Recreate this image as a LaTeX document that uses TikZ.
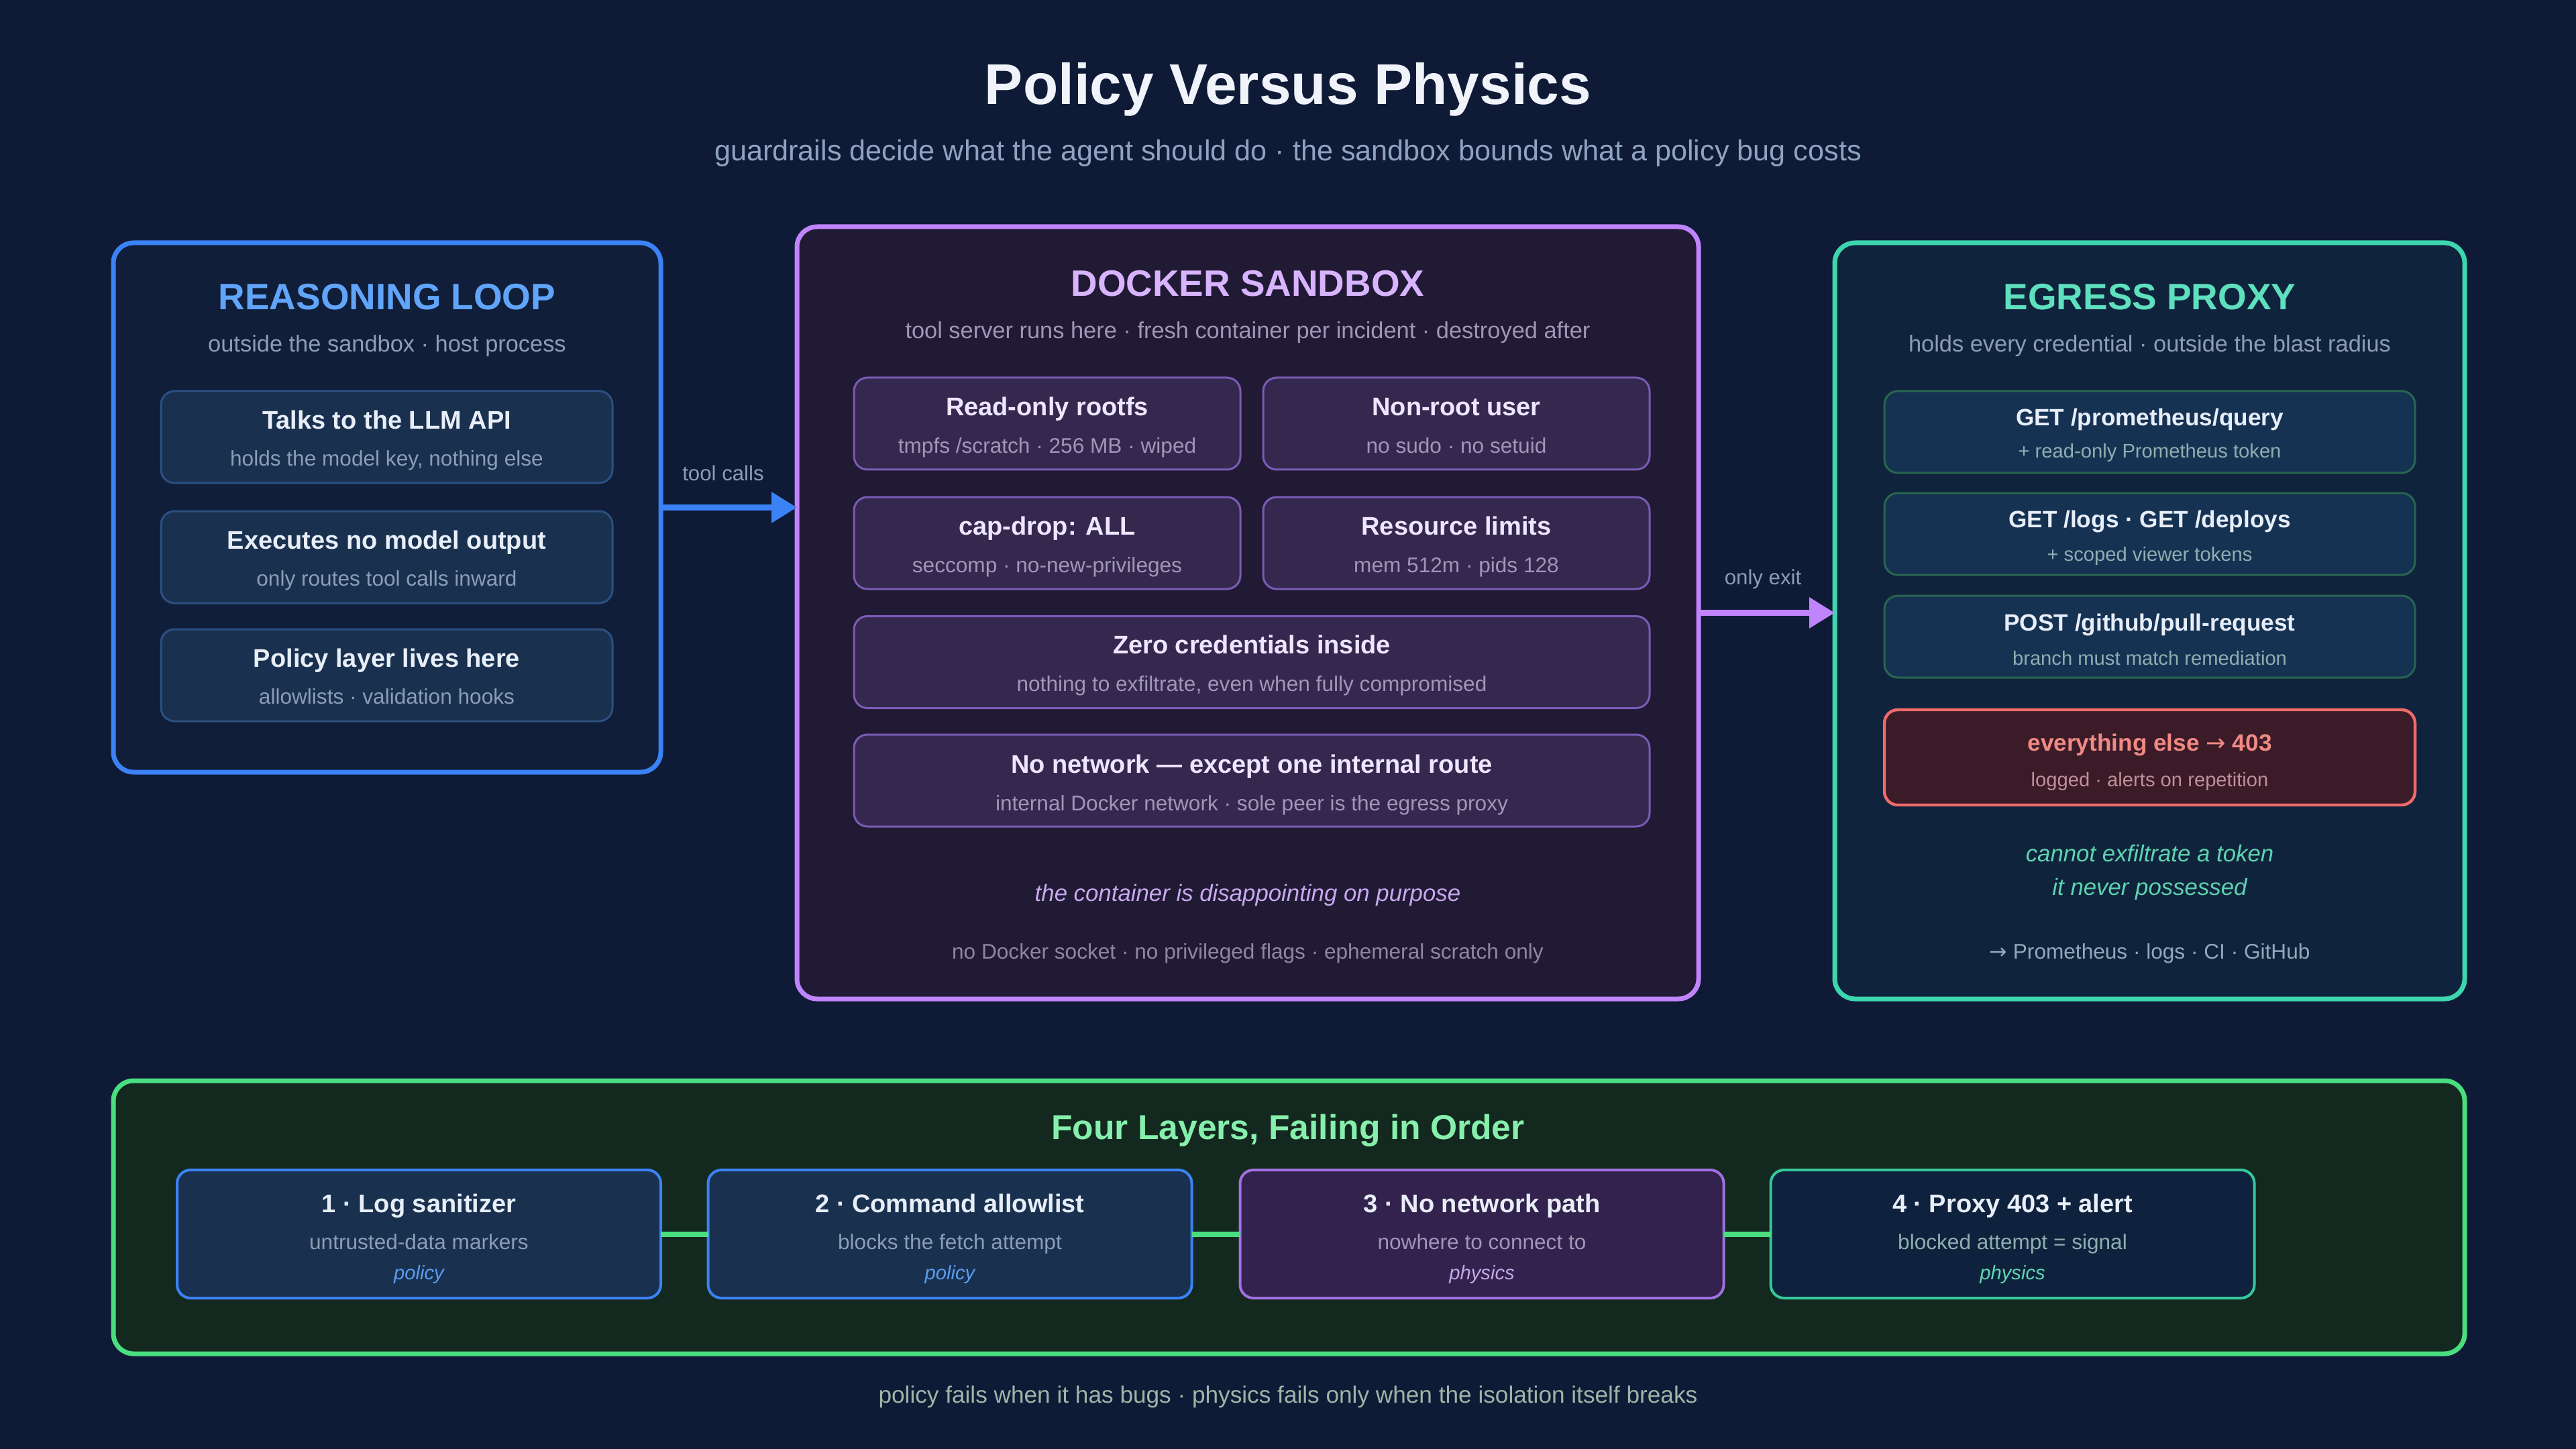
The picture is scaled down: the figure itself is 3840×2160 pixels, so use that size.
\documentclass[tikz,border=0pt]{standalone}
\usepackage{fontspec}
\setmainfont{Liberation Sans}
\newfontfamily\arrowfont{DejaVu Sans}
\usetikzlibrary{arrows.meta}
\definecolor{bg}{HTML}{0F1B36}
\definecolor{maintxt}{HTML}{E8EEF8}
\definecolor{subgray}{HTML}{8C9DB5}
\definecolor{rlfill}{HTML}{101E3A}
\definecolor{rlborder}{HTML}{3B82F6}
\definecolor{rltitle}{HTML}{60A5FA}
\definecolor{bcfill}{HTML}{19314F}
\definecolor{bcborder}{HTML}{2C5080}
\definecolor{dsfill}{HTML}{211A34}
\definecolor{dsborder}{HTML}{C084FC}
\definecolor{dstitle}{HTML}{D8B4FE}
\definecolor{dcfill}{HTML}{35284F}
\definecolor{dcborder}{HTML}{7A5BB5}
\definecolor{dctxt}{HTML}{EEE6FF}
\definecolor{dssub}{HTML}{A096B8}
\definecolor{dsitalic}{HTML}{C8A8F0}
\definecolor{dsfoot}{HTML}{8F86A5}
\definecolor{epfill}{HTML}{10233D}
\definecolor{epborder}{HTML}{3DD6AE}
\definecolor{eptitle}{HTML}{5EE0BE}
\definecolor{ecfill}{HTML}{163253}
\definecolor{ecborder}{HTML}{28664F}
\definecolor{epsub}{HTML}{8FAEB0}
\definecolor{redfill}{HTML}{3B1B27}
\definecolor{redborder}{HTML}{EE6B6B}
\definecolor{redtitle}{HTML}{F08A84}
\definecolor{redsub}{HTML}{C0909A}
\definecolor{epitalic}{HTML}{5DD3AE}
\definecolor{epfoot}{HTML}{93A8BA}
\definecolor{btfill}{HTML}{13291F}
\definecolor{btborder}{HTML}{4ADE80}
\definecolor{bttitle}{HTML}{86EFAC}
\definecolor{b3fill}{HTML}{33224D}
\definecolor{b3border}{HTML}{A070E0}
\definecolor{b4fill}{HTML}{0F223D}
\definecolor{b4border}{HTML}{34C79A}
\definecolor{tagpolicy}{HTML}{5B9BF0}
\definecolor{tagphys}{HTML}{C4A7E7}
\definecolor{tagphysb}{HTML}{5ED6B0}
\definecolor{footc}{HTML}{A0B4A8}
\definecolor{titlec}{HTML}{F0F4FA}
\definecolor{subtitlec}{HTML}{8FA3C0}
\begin{document}
\begin{tikzpicture}[x=0.25pt,y=-0.25pt,
  wh/.style 2 args={minimum width=#1*0.25pt, minimum height=#2*0.25pt},
  panel/.style={draw, line width=1.75pt, rounded corners=7.5pt, inner sep=0pt, outer sep=0pt},
  card/.style={draw, line width=0.75pt, rounded corners=5pt, inner sep=0pt, outer sep=0pt},
  layer/.style={draw, line width=1pt, rounded corners=5pt, inner sep=0pt, outer sep=0pt},
  txt/.style={inner sep=0pt, anchor=mid},
  bigtitle/.style={txt, font=\fontsize{21.4}{25}\selectfont\bfseries, text=titlec},
  bigsub/.style={txt, font=\fontsize{10.8}{13}\selectfont, text=subtitlec},
  ptitle/.style={txt, font=\fontsize{13.7}{16}\selectfont\bfseries},
  psub/.style={txt, font=\fontsize{8.6}{10}\selectfont},
  ctitle/.style={txt, font=\fontsize{9.5}{11}\selectfont\bfseries},
  csub/.style={txt, font=\fontsize{7.9}{9}\selectfont},
  etitle/.style={txt, font=\fontsize{8.8}{11}\selectfont\bfseries},
  esub/.style={txt, font=\fontsize{7.3}{9}\selectfont},
  note/.style={txt, font=\fontsize{8.7}{10}\selectfont\itshape},
  foot/.style={txt, font=\fontsize{7.9}{9}\selectfont},
  lbl/.style={txt, font=\fontsize{7.8}{9}\selectfont, text=subgray},
  tag/.style={txt, font=\fontsize{7.3}{9}\selectfont\itshape},
  flow/.style={line width=2.3pt, -{Triangle[length=9.5pt,width=11pt]}}
]
\fill[bg] (0,0) rectangle (3840,2160);
\useasboundingbox (0,0) rectangle (3840,2160);

% ---------- title ----------
\node[bigtitle] (title) at (1920,145) {Policy Versus Physics};
\node[bigsub] (subtitle) at (1920,229) {guardrails decide what the agent should do · the sandbox bounds what a policy bug costs};

% ---------- reasoning loop ----------
\node[panel, wh={816}{789}, draw=rlborder, fill=rlfill] (rl) at (577,756.5) {};
\node[ptitle, text=rltitle] (rlt) at (577,451) {REASONING LOOP};
\node[psub, text=subgray] (rls) at (577,514) {outside the sandbox · host process};

\node[card, wh={673}{137}, draw=bcborder, fill=bcfill] (r1) at (576.5,651.5) {};
\node[ctitle, text=maintxt] (r1t) at (576.5,629) {Talks to the LLM API};
\node[csub, text=subgray] (r1s) at (576.5,684) {holds the model key, nothing else};
\node[card, wh={673}{137}, draw=bcborder, fill=bcfill] (r2) at (576.5,830.5) {};
\node[ctitle, text=maintxt] (r2t) at (576.5,808) {Executes no model output};
\node[csub, text=subgray] (r2s) at (576.5,863) {only routes tool calls inward};
\node[card, wh={673}{137}, draw=bcborder, fill=bcfill] (r3) at (576.5,1006.5) {};
\node[ctitle, text=maintxt] (r3t) at (576.5,984) {Policy layer lives here};
\node[csub, text=subgray] (r3s) at (576.5,1039) {allowlists · validation hooks};

% ---------- docker sandbox ----------
\node[panel, wh={1344}{1151}, draw=dsborder, fill=dsfill] (ds) at (1860,913.5) {};
\node[ptitle, text=dstitle] (dst) at (1860,431) {DOCKER SANDBOX};
\node[psub, text=dssub] (dss) at (1860,494) {tool server runs here · fresh container per incident · destroyed after};

\node[card, wh={576}{137}, draw=dcborder, fill=dcfill] (d1) at (1561,631.5) {};
\node[ctitle, text=dctxt] (d1t) at (1561,609) {Read-only rootfs};
\node[csub, text=dssub] (d1s) at (1561,665) {tmpfs /scratch · 256 MB · wiped};
\node[card, wh={576}{137}, draw=dcborder, fill=dcfill] (d2) at (2171,631.5) {};
\node[ctitle, text=dctxt] (d2t) at (2171,609) {Non-root user};
\node[csub, text=dssub] (d2s) at (2171,665) {no sudo · no setuid};
\node[card, wh={576}{137}, draw=dcborder, fill=dcfill] (d3) at (1561,809.5) {};
\node[ctitle, text=dctxt] (d3t) at (1561,787) {cap-drop: ALL};
\node[csub, text=dssub] (d3s) at (1561,843) {seccomp · no-new-privileges};
\node[card, wh={576}{137}, draw=dcborder, fill=dcfill] (d4) at (2171,809.5) {};
\node[ctitle, text=dctxt] (d4t) at (2171,787) {Resource limits};
\node[csub, text=dssub] (d4s) at (2171,843) {mem 512m · pids 128};
\node[card, wh={1186}{137}, draw=dcborder, fill=dcfill] (d5) at (1866,987) {};
\node[ctitle, text=dctxt] (d5t) at (1866,964) {Zero credentials inside};
\node[csub, text=dssub] (d5s) at (1866,1020) {nothing to exfiltrate, even when fully compromised};
\node[card, wh={1186}{137}, draw=dcborder, fill=dcfill] (d6) at (1866,1163.5) {};
\node[ctitle, text=dctxt] (d6t) at (1866,1142) {No network — except one internal route};
\node[csub, text=dssub] (d6s) at (1866,1198) {internal Docker network · sole peer is the egress proxy};

\node[note, text=dsitalic] (dsnote) at (1860,1333) {the container is disappointing on purpose};
\node[foot, text=dsfoot] (dsfoot) at (1860,1419) {no Docker socket · no privileged flags · ephemeral scratch only};

% ---------- egress proxy ----------
\node[panel, wh={939}{1127}, draw=epborder, fill=epfill] (ep) at (3204.5,925.5) {};
\node[ptitle, text=eptitle] (ept) at (3204.5,451) {EGRESS PROXY};
\node[psub, text=subgray] (eps) at (3204.5,514) {holds every credential · outside the blast radius};

\node[card, wh={791}{122}, draw=ecborder, fill=ecfill] (e1) at (3204.5,644) {};
\node[etitle, text=maintxt] (e1t) at (3204.5,624) {GET /prometheus/query};
\node[esub, text=epsub] (e1s) at (3204.5,672) {+ read-only Prometheus token};
\node[card, wh={791}{122}, draw=ecborder, fill=ecfill] (e2) at (3204.5,796) {};
\node[etitle, text=maintxt] (e2t) at (3204.5,776) {GET /logs · GET /deploys};
\node[esub, text=epsub] (e2s) at (3204.5,826) {+ scoped viewer tokens};
\node[card, wh={791}{122}, draw=ecborder, fill=ecfill] (e3) at (3204.5,949) {};
\node[etitle, text=maintxt] (e3t) at (3204.5,930) {POST /github/pull-request};
\node[esub, text=epsub] (e3s) at (3204.5,981) {branch must match remediation};
\node[card, line width=1.1pt, wh={791}{142}, draw=redborder, fill=redfill] (e4) at (3204.5,1129) {};
\node[etitle, text=redtitle] (e4t) at (3204.5,1109) {everything else {\arrowfont\mdseries →} 403};
\node[esub, text=redsub] (e4s) at (3204.5,1162) {logged · alerts on repetition};

\node[note, text=epitalic] (epn1) at (3204.5,1274) {cannot exfiltrate a token};
\node[note, text=epitalic] (epn2) at (3204.5,1324) {it never possessed};
\node[foot, text=epfoot] (epfoot) at (3204.5,1419) {{\arrowfont →} Prometheus · logs · CI · GitHub};

% ---------- connectors ----------
\draw[flow, rlborder] (rl.east) -- (rl.east -| ds.west);
\node[lbl] (lbl1) at (1078,706) {tool calls};
\draw[flow, dsborder] (ds.east) -- (ds.east -| ep.west);
\node[lbl] (lbl2) at (2628,861) {only exit};

% ---------- bottom panel ----------
\node[panel, wh={3505}{407}, draw=btborder, fill=btfill] (bt) at (1921.5,1814.5) {};
\node[txt, font=\fontsize{12.9}{15}\selectfont\bfseries, text=bttitle] (btt) at (1920,1688) {Four Layers, Failing in Order};

\node[layer, wh={721}{191}, draw=rlborder, fill=bcfill] (l1) at (624.5,1839.5) {};
\node[ctitle, text=maintxt] (l1t) at (624.5,1797) {1 · Log sanitizer};
\node[csub, text=subgray] (l1s) at (624.5,1852) {untrusted-data markers};
\node[tag, text=tagpolicy] (l1g) at (624.5,1897) {policy};

\node[layer, wh={721}{191}, draw=rlborder, fill=bcfill] (l2) at (1416,1839.5) {};
\node[ctitle, text=maintxt] (l2t) at (1416,1797) {2 · Command allowlist};
\node[csub, text=subgray] (l2s) at (1416,1852) {blocks the fetch attempt};
\node[tag, text=tagpolicy] (l2g) at (1416,1897) {policy};

\node[layer, wh={721}{191}, draw=b3border, fill=b3fill] (l3) at (2209,1839.5) {};
\node[ctitle, text=maintxt] (l3t) at (2209,1797) {3 · No network path};
\node[csub, text=dssub] (l3s) at (2209,1852) {nowhere to connect to};
\node[tag, text=tagphys] (l3g) at (2209,1897) {physics};

\node[layer, wh={721}{191}, draw=b4border, fill=b4fill] (l4) at (3000,1839.5) {};
\node[ctitle, text=maintxt] (l4t) at (3000,1797) {4 · Proxy 403 + alert};
\node[csub, text=epsub] (l4s) at (3000,1852) {blocked attempt = signal};
\node[tag, text=tagphysb] (l4g) at (3000,1897) {physics};

\draw[btborder, line width=2pt] (l1.east) -- (l2.west);
\draw[btborder, line width=2pt] (l2.east) -- (l3.west);
\draw[btborder, line width=2pt] (l3.east) -- (l4.west);

\node[txt, font=\fontsize{8.8}{10}\selectfont, text=footc] (footer) at (1920,2081) {policy fails when it has bugs · physics fails only when the isolation itself breaks};
\end{tikzpicture}
\end{document}
